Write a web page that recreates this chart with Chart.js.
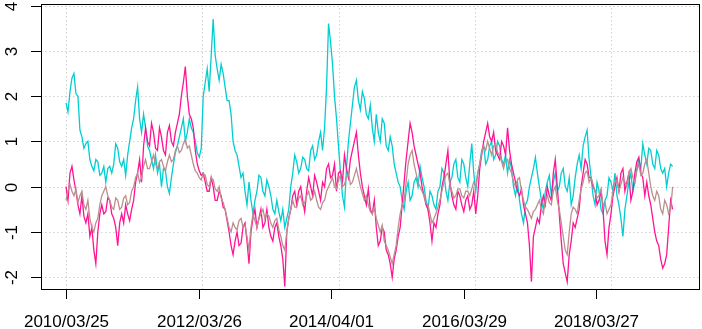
<!DOCTYPE html>
<html>
<head>
<meta charset="utf-8">
<script src="https://cdn.jsdelivr.net/npm/chart.js@4/dist/chart.umd.min.js"></script>
<style>
html,body{margin:0;padding:0;background:#fff;}
#c{display:block;}
</style>
</head>
<body>
<canvas id="c" width="702" height="329"></canvas>
<script>
// ---- data: readings every 7.5 trading-day index steps ----
// "A" readings sit at even steps, "B" readings at the odd steps between them
const STEP = 7.5;
const xTickPos = [0, 500, 1000, 1500, 2000];
const xTickLabels = ['2010/03/25', '2012/03/26', '2014/04/01', '2016/03/29', '2018/03/27'];
const xGridPos = [0, 514, 1028, 1542, 2056];
const yTicks = [-2, -1, 0, 1, 2, 3, 4];

const cyanA = [1.85,2.1,2.5,2.0,1.1,0.95,0.6,0.35,0.55,0.3,0.1,0.45,0.5,0.85,0.45,0.25,1.0,1.5,2.2,1.2,
1.3,0.8,0.4,0.3,0.0,0.35,-0.15,0.5,0.9,1.3,1.0,1.5,1.2,0.75,0.85,2.3,2.1,3.7,2.6,2.7,
2.2,1.9,1.0,0.7,0.2,-0.1,0.1,-0.6,-0.1,0.2,-0.2,0.0,-0.5,-0.3,-0.75,-0.9,-0.5,0.3,0.55,0.4,
0.6,0.35,0.9,0.7,1.2,1.3,3.6,2.7,1.5,0.3,-0.45,1.0,1.8,2.35,1.7,1.95,1.5,1.3,1.6,1.0,
1.4,0.8,0.9,0.3,0.0,-0.5,0.1,-0.2,0.2,0.45,0.0,-0.5,-0.2,-0.5,0.0,0.3,-0.3,0.2,0.6,0.1,
0.5,0.0,0.95,-0.1,0.5,0.9,0.6,1.0,0.7,0.9,0.5,0.3,0.4,-0.2,-0.3,-0.8,-0.3,0.2,0.65,0.0,
-0.5,0.1,-0.2,0.3,0.0,0.4,-0.1,-0.4,0.2,0.7,0.9,1.25,0.2,-0.4,-0.1,-0.6,-0.2,0.1,0.3,-0.4,
-1.1,-0.2,0.3,0.1,0.6,0.95,0.5,0.8,0.4,0.7,0.3,0.0,0.5];
const cyanB = [1.65,2.4,2.05,1.25,0.85,1.0,0.45,0.6,0.25,0.45,0.4,0.3,0.95,0.55,0.6,0.7,1.3,1.9,1.5,1.6,
0.9,0.6,0.7,0.5,0.4,0.0,0.2,0.75,1.1,1.5,1.2,1.3,1.0,0.65,2.0,2.6,2.9,2.9,2.35,2.5,
1.9,1.6,0.8,0.45,0.3,-0.4,-0.3,-0.3,0.25,-0.1,0.15,-0.2,-0.6,-0.55,-0.5,-0.7,0.0,0.7,0.3,0.65,
0.4,0.8,0.6,1.0,0.8,2.2,3.2,2.0,0.9,-0.2,0.4,1.4,2.2,1.9,2.1,1.6,1.8,1.0,1.2,1.5,
0.9,1.1,0.5,0.1,-0.3,-0.1,-0.3,0.1,0.0,0.2,-0.3,-0.1,-0.4,-0.1,0.4,-0.1,0.1,0.5,0.2,0.6,
0.2,0.5,0.3,0.3,0.8,0.5,0.9,0.6,1.0,0.6,0.7,0.6,0.0,0.1,-0.6,-0.4,0.0,0.4,0.3,-0.3,
-0.1,0.25,0.1,-0.1,0.3,0.0,0.2,-0.2,0.5,0.4,1.1,0.6,-0.2,0.1,-0.5,-0.3,0.2,-0.1,-0.2,-0.7,
-0.5,0.1,-0.1,0.4,0.4,0.7,0.85,0.5,0.8,0.4,0.4,0.3,0.45];

const pinkA = [0.0,0.3,0.15,-0.4,-0.2,-0.8,-1.1,-1.4,-1.0,-0.4,-0.55,-0.3,-0.7,-1.3,-0.6,-0.4,-0.75,-0.3,0.3,0.1,
1.3,0.9,1.2,0.8,1.1,0.7,1.35,0.9,1.4,2.0,2.65,1.6,1.3,0.5,0.25,0.1,-0.1,0.0,-0.3,-0.2,
-0.5,-1.0,-1.5,-1.0,-1.25,-0.8,-1.7,-0.7,-0.9,-0.5,-0.8,-0.9,-1.2,-0.8,-1.3,-2.2,-0.7,-0.2,-0.4,0.0,
-0.55,0.2,-0.2,0.1,-0.3,0.0,0.5,0.25,-0.1,0.35,0.7,0.2,0.8,1.2,0.3,-0.2,-0.05,-0.6,-0.9,-1.2,
-1.0,-1.5,-2.0,-1.4,-0.9,0.1,1.0,1.2,0.7,0.3,-0.2,-0.5,-1.2,-0.9,-0.4,0.2,0.8,-0.2,-0.5,-0.2,
-0.55,-0.2,-0.4,-0.6,0.4,1.0,1.4,1.0,0.8,0.6,0.9,1.3,0.5,0.1,-0.2,-0.4,-0.8,-2.1,-0.9,-0.8,
-0.2,0.0,-0.3,0.6,-0.6,-1.7,-2.1,-1.2,-0.9,-0.5,0.3,0.5,0.2,-0.1,-0.3,-0.5,-1.5,-0.6,0.0,-0.1,
0.4,0.1,-0.3,0.3,0.65,0.2,0.1,-0.4,-1.0,-1.3,-1.8,-1.5,-0.3];
const pinkB = [-0.3,0.45,-0.1,-0.6,-0.65,-0.6,-0.9,-1.7,-0.6,-0.6,-0.25,-0.6,-0.9,-0.8,-0.8,-0.6,-0.5,0.1,0.6,0.9,
1.0,1.4,0.85,1.3,0.8,1.2,1.0,1.2,1.6,2.3,2.0,1.5,0.8,0.35,0.3,-0.1,0.2,-0.3,-0.1,-0.45,
-0.75,-1.3,-1.2,-1.3,-0.9,-1.2,-1.0,-0.5,-0.7,-0.9,-0.5,-1.1,-0.9,-1.1,-1.6,-1.0,-0.5,-0.1,-0.1,-0.3,
-0.1,0.0,0.25,-0.1,0.1,0.4,0.2,0.5,0.3,0.1,0.4,0.6,1.0,0.7,0.0,-0.4,-0.5,-0.3,-1.3,-0.9,
-1.4,-1.7,-1.6,-1.1,-0.4,0.6,1.4,0.9,0.5,0.0,-0.4,-0.8,-0.8,-0.6,0.0,0.5,0.1,-0.4,-0.1,-0.4,
-0.3,-0.5,-0.1,-0.2,0.7,1.2,1.1,1.2,0.7,1.0,0.7,0.8,0.3,-0.1,-0.05,-0.6,-1.3,-1.1,-0.7,-0.4,
-0.4,-0.2,0.3,0.0,-1.2,-1.9,-1.5,-0.8,-0.7,0.0,0.6,0.2,0.0,-0.4,-0.1,-1.2,-0.9,-0.2,0.2,0.3,
-0.1,0.3,-0.1,0.55,0.3,-0.2,-0.2,-0.7,-1.2,-1.6,-1.7,-0.9,-0.5];

const brownA = [-0.3,0.05,-0.2,-0.35,-0.1,-0.5,-0.7,-1.0,-0.7,-0.2,0.0,-0.3,-0.5,-0.3,-0.45,-0.2,-0.35,0.0,0.3,0.2,
0.6,0.4,0.7,0.4,0.6,0.35,0.7,0.6,0.9,0.8,1.05,0.9,0.5,0.3,0.15,0.25,0.0,0.15,-0.1,-0.25,
-0.5,-0.9,-0.8,-0.95,-0.7,-0.85,-1.4,-0.6,-0.9,-0.6,-0.7,-0.65,-0.9,-0.7,-1.1,-1.4,-0.7,-0.3,-0.45,-0.2,
-0.35,-0.1,-0.25,-0.3,-0.5,-0.3,0.0,0.2,-0.05,0.25,0.05,0.3,0.1,0.4,0.0,-0.3,-0.4,-0.6,-0.7,-1.0,
-1.2,-1.4,-1.7,-1.3,-0.6,-0.3,0.5,0.8,0.3,0.0,-0.2,-0.4,-0.8,-0.6,-0.3,0.1,0.3,-0.1,-0.2,-0.05,
-0.25,-0.1,-0.05,0.0,0.5,0.9,1.0,0.7,0.95,0.7,0.4,0.6,0.3,0.0,0.2,-0.3,-0.5,-0.7,-0.5,-0.3,
-0.6,-0.2,-0.4,0.0,-0.5,-1.1,-1.5,-0.6,-0.5,-0.3,0.1,0.35,0.2,-0.1,-0.2,-0.4,-0.6,-0.4,0.1,-0.1,
0.2,0.0,0.4,0.1,0.5,0.3,0.6,0.0,-0.3,-0.2,-0.6,-0.4,-0.5];
const brownB = [-0.1,-0.1,-0.05,-0.2,-0.4,-0.3,-0.9,-0.8,-0.4,-0.1,-0.2,-0.45,-0.25,-0.5,-0.25,-0.4,-0.1,0.2,0.1,0.45,
0.4,0.55,0.5,0.55,0.45,0.55,0.55,0.8,0.75,0.95,0.85,0.7,0.35,0.2,0.3,0.05,0.2,-0.05,0.0,-0.35,
-0.7,-1.0,-0.9,-0.75,-0.9,-1.1,-0.9,-0.75,-0.7,-0.5,-0.6,-0.8,-0.75,-0.95,-1.3,-1.0,-0.5,-0.45,-0.25,-0.4,
-0.2,-0.3,-0.1,-0.45,-0.35,-0.1,0.1,0.0,0.15,0.0,0.2,0.05,0.25,0.2,-0.15,-0.2,-0.55,-0.45,-0.85,-0.85,
-1.3,-1.55,-1.5,-0.9,-0.4,0.1,0.7,0.5,0.1,-0.1,-0.35,-0.6,-0.7,-0.45,-0.1,0.25,0.05,-0.25,-0.05,-0.2,
-0.1,-0.2,0.1,0.3,0.75,0.8,0.85,0.9,0.75,0.55,0.6,0.4,0.1,0.15,-0.1,-0.45,-0.6,-0.55,-0.4,-0.5,
-0.3,-0.35,-0.1,-0.3,-0.8,-1.4,-1.0,-0.45,-0.6,-0.05,0.3,0.1,0.05,-0.25,-0.05,-0.35,-0.5,-0.1,0.15,0.05,
0.1,0.3,0.2,0.35,0.25,0.5,0.3,-0.2,-0.1,-0.5,-0.3,-0.6,0.0];

const merge = (a, b) => a.flatMap((v, i) => (i < b.length ? [v, b[i]] : [v]));
const toPts = arr => arr.map((v, i) => ({x: i * STEP, y: v}));

// ---- geometry of the R-style plot region ----
const PX_PER_IDX = 0.2652;
const X0_PX = 66;
const AREA = {left: 41, right: 700, top: 4, bottom: 289};
const Y0_PX = 186.7, PX_PER_UNIT = 45.3;

const FONT = '17px "Liberation Sans", Arial, sans-serif';

const rAxes = {
  id: 'rAxes',
  beforeDatasetsDraw(chart) {
    const ctx = chart.ctx, xs = chart.scales.x, ys = chart.scales.y, a = chart.chartArea;
    ctx.save();
    ctx.strokeStyle = '#CFCFCF';
    ctx.lineWidth = 1;
    ctx.setLineDash([1.5, 2.5]);
    yTicks.forEach(v => {
      const y = Math.round(ys.getPixelForValue(v)) + 0.5;
      ctx.beginPath(); ctx.moveTo(a.left, y); ctx.lineTo(a.right, y); ctx.stroke();
    });
    xGridPos.forEach(v => {
      const x = Math.round(xs.getPixelForValue(v)) + 0.5;
      ctx.beginPath(); ctx.moveTo(x, a.top); ctx.lineTo(x, a.bottom); ctx.stroke();
    });
    ctx.restore();
  },
  afterDraw(chart) {
    const ctx = chart.ctx, xs = chart.scales.x, ys = chart.scales.y, a = chart.chartArea;
    ctx.save();
    ctx.setLineDash([]);
    ctx.strokeStyle = '#000';
    ctx.lineWidth = 1;
    ctx.strokeRect(a.left + 0.5, a.top + 0.5, a.right - a.left - 1, a.bottom - a.top);
    ctx.fillStyle = '#000';
    ctx.font = FONT;
    ctx.textAlign = 'center';
    ctx.textBaseline = 'alphabetic';
    xTickPos.forEach((v, i) => {
      const x = Math.round(xs.getPixelForValue(v)) + 0.5;
      ctx.beginPath(); ctx.moveTo(x, a.bottom); ctx.lineTo(x, a.bottom + 10); ctx.stroke();
      ctx.fillText(xTickLabels[i], x, a.bottom + 38);
    });
    yTicks.forEach(v => {
      const y = Math.round(ys.getPixelForValue(v)) + 0.5;
      ctx.beginPath(); ctx.moveTo(a.left - 10, y); ctx.lineTo(a.left, y); ctx.stroke();
      ctx.save();
      ctx.translate(17, y);
      ctx.rotate(-Math.PI / 2);
      ctx.textAlign = 'center';
      ctx.textBaseline = 'alphabetic';
      ctx.fillText(String(v), 0, 0);
      ctx.restore();
    });
    ctx.restore();
  }
};

new Chart(document.getElementById('c'), {
  type: 'line',
  data: {
    datasets: [
      {label: 'brown', data: toPts(merge(brownA, brownB)), borderColor: '#BC8F8F'},
      {label: 'pink', data: toPts(merge(pinkA, pinkB)), borderColor: '#FF1493'},
      {label: 'cyan', data: toPts(merge(cyanA, cyanB)), borderColor: '#00CED1'}
    ]
  },
  options: {
    responsive: false,
    animation: false,
    devicePixelRatio: 1,
    layout: {padding: {left: 0, right: 702 - AREA.right, top: AREA.top, bottom: 0}},
    elements: {point: {radius: 0}, line: {borderWidth: 1.3, tension: 0}},
    plugins: {legend: {display: false}, tooltip: {enabled: false}},
    scales: {
      x: {
        type: 'linear',
        min: -(X0_PX - AREA.left) / PX_PER_IDX,
        max: (AREA.right - X0_PX) / PX_PER_IDX,
        grid: {display: false}, border: {display: false},
        ticks: {display: false},
        afterFit: s => { s.height = 329 - AREA.bottom; }
      },
      y: {
        type: 'linear',
        min: -(AREA.bottom - Y0_PX) / PX_PER_UNIT,
        max: (Y0_PX - AREA.top) / PX_PER_UNIT,
        grid: {display: false}, border: {display: false},
        ticks: {display: false},
        afterFit: s => { s.width = AREA.left; }
      }
    }
  },
  plugins: [rAxes]
});
</script>
</body>
</html>
